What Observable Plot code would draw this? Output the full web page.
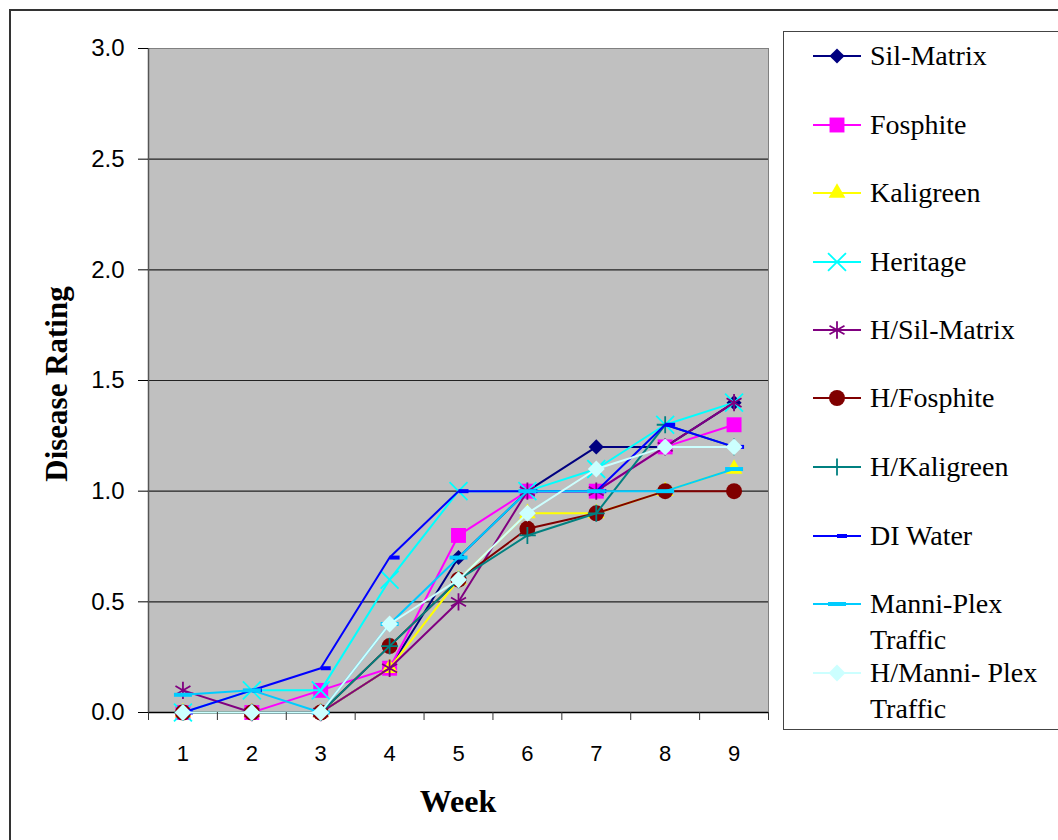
<!DOCTYPE html>
<html><head><meta charset="utf-8">
<script src="https://cdn.jsdelivr.net/npm/d3@7"></script>
<script src="https://cdn.jsdelivr.net/npm/@observablehq/plot@0.6"></script>
<style>
html,body{margin:0;padding:0;background:#fff;overflow:hidden;}
#wrap{position:relative;width:1058px;height:840px;overflow:hidden;}
#border{position:absolute;left:9px;top:9px;width:1100px;height:900px;border:2px solid #333;box-sizing:border-box;}
#chart{position:absolute;left:0;top:0;}
#legend{position:absolute;left:783px;top:31px;width:320px;height:699px;border:1.5px solid #444;box-sizing:border-box;background:#fff;}
.lg{position:absolute;left:870px;font-family:"Liberation Serif","Times New Roman",serif;font-size:28px;line-height:36px;color:#000;white-space:nowrap;}
.lgs{position:absolute;left:808px;}
#ylab{position:absolute;left:57px;top:384px;transform:translate(-50%,-50%) rotate(-90deg);font-family:"Liberation Serif","Times New Roman",serif;font-weight:bold;font-size:31px;white-space:nowrap;}
#xlab{position:absolute;left:458px;top:801px;transform:translate(-50%,-50%);font-family:"Liberation Serif","Times New Roman",serif;font-weight:bold;font-size:32px;white-space:nowrap;}
</style></head>
<body>
<div id="wrap">
  <div id="border"></div>
  <div id="chart"></div>
  <div id="legend"></div>
  <div id="ylab">Disease Rating</div>
  <div id="xlab">Week</div>
</div>
<script>
const weeks = [1, 2, 3, 4, 5, 6, 7, 8, 9];
const yTicks = [0, 0.5, 1, 1.5, 2, 2.5, 3];
const seriesNames = ["Sil-Matrix", "Fosphite", "Kaligreen", "Heritage", "H/Sil-Matrix", "H/Fosphite", "H/Kaligreen", "DI Water", "Manni-Plex Traffic", "H/Manni- Plex Traffic"];
const silMatrix  = [0, 0, 0, 0.2, 0.7, 1.0, 1.2, 1.2, 1.4];
const fosphite   = [0, 0, 0.1, 0.2, 0.8, 1.0, 1.0, 1.2, 1.3];
const kaligreen  = [0, 0, 0, 0.2, 0.6, 0.9, 0.9, 1.0, 1.1];
const heritage   = [0, 0.1, 0.1, 0.6, 1.0, 1.0, 1.1, 1.3, 1.4];
const hSilMatrix = [0.1, 0, 0, 0.2, 0.5, 1.0, 1.0, 1.2, 1.4];
const hFosphite  = [0, 0, 0, 0.3, 0.6, 0.83, 0.9, 1.0, 1.0];
const hKaligreen = [0, 0, 0, 0.3, 0.6, 0.8, 0.9, 1.3, 1.2];
const diWater    = [0, 0.1, 0.2, 0.7, 1.0, 1.0, 1.0, 1.3, 1.2];
const manniPlex  = [0.08, 0.1, 0, 0.4, 0.7, 1.0, 1.0, 1.0, 1.1];
const hManniPlex = [0, 0, 0, 0.4, 0.6, 0.9, 1.1, 1.2, 1.2];
const seriesValues = [silMatrix, fosphite, kaligreen, heritage, hSilMatrix, hFosphite, hKaligreen, diWater, manniPlex, hManniPlex];
const seriesColors = ["#000080", "#FF00FF", "#FFFF00", "#00FFFF", "#800080", "#800000", "#008080", "#0000FF", "#00CCFF", "#CCFFFF"];

// marker symbols
const dashRight = {draw(ctx){ ctx.rect(0, -2, 10, 4); }};
const dashWide = {draw(ctx){ ctx.rect(-9, -2, 18, 4); }};
const markers = [
  {symbol: "diamond2", r: 6.8, filled: true},
  {symbol: "square2", r: 9.5, filled: true},
  {symbol: "triangle2", r: 8, filled: true},
  {symbol: "times", r: 8.2, filled: false},
  {symbol: "asterisk", r: 8.2, filled: false},
  {symbol: "circle", r: 8, filled: true},
  {symbol: "plus", r: 5.5, filled: false},
  {symbol: dashRight, r: 5, filled: true},
  {symbol: dashWide, r: 5, filled: true},
  {symbol: "diamond2", r: 7.6, filled: true}
];

const rows = seriesNames.flatMap((name, si) => weeks.map((w, i) => ({series: name, week: w, value: seriesValues[si][i]})));

const seriesMarks = seriesNames.flatMap((name, si) => {
  const d = rows.filter(r => r.series === name);
  const m = markers[si];
  const c = seriesColors[si];
  return [
    Plot.line(d, {x: "week", y: "value", stroke: c, strokeWidth: 2}),
    Plot.dot(d, {x: "week", y: "value", symbol: m.symbol, r: m.r,
      fill: m.filled ? c : "none", stroke: m.filled ? "none" : c, strokeWidth: m.filled ? 0 : 1.8})
  ];
});

const chart = Plot.plot({
  width: 1058, height: 840,
  marginLeft: 148, marginRight: 290, marginTop: 48, marginBottom: 128,
  style: {fontFamily: "'Liberation Sans', Arial, sans-serif", fontSize: "22px", background: "transparent", color: "#000"},
  x: {domain: [0.5, 9.5]},
  y: {domain: [0, 3]},
  marks: [
    Plot.frame({fill: "#C0C0C0", stroke: "#808080"}),
    Plot.ruleY([0.5, 1, 1.5, 2, 2.5], {stroke: "#222", strokeWidth: 1.2}),
    Plot.ruleY([0], {stroke: "#000", strokeWidth: 1.5}),
    Plot.ruleX([0.5], {stroke: "#555", strokeWidth: 1.5}),
    ...seriesMarks,
    Plot.axisY({ticks: yTicks, tickFormat: d3.format(".1f"), tickSize: 10, tickPadding: 14, fontSize: 24, label: null, stroke: "#000"}),
    Plot.axisX({ticks: d3.range(0.5, 10, 1), tickFormat: () => "", tickSize: 8, label: null, stroke: "#333"}),
    Plot.axisX({ticks: weeks, tickSize: 0, tickPadding: 33, fontSize: 22, label: null})
  ]
});
document.getElementById("chart").appendChild(chart);

// legend
const wrap = document.getElementById("wrap");
const legendY = [56, 125, 193, 262, 330, 398, 467, 536, 604, 673];
const legendLines = [["Sil-Matrix"], ["Fosphite"], ["Kaligreen"], ["Heritage"], ["H/Sil-Matrix"], ["H/Fosphite"], ["H/Kaligreen"], ["DI Water"], ["Manni-Plex", "Traffic"], ["H/Manni- Plex", "Traffic"]];
const symMap = {diamond2: d3.symbolDiamond2, square2: d3.symbolSquare2, triangle2: d3.symbolTriangle2, times: d3.symbolTimes, asterisk: d3.symbolAsterisk, circle: d3.symbolCircle, plus: d3.symbolPlus};
seriesNames.forEach((name, si) => {
  const cy = legendY[si];
  const m = markers[si];
  const c = seriesColors[si];
  const svg = d3.create("svg").attr("class", "lgs").attr("width", 60).attr("height", 30)
    .style("left", "808px").style("top", (cy - 15) + "px");
  svg.append("line").attr("x1", 5).attr("x2", 53).attr("y1", 15).attr("y2", 15).attr("stroke", c).attr("stroke-width", 2);
  const sym = typeof m.symbol === "string" ? symMap[m.symbol] : m.symbol;
  svg.append("path").attr("transform", "translate(29,15)")
    .attr("d", d3.symbol(sym, Math.PI * m.r * m.r)())
    .attr("fill", m.filled ? c : "none").attr("stroke", m.filled ? "none" : c).attr("stroke-width", 1.8);
  wrap.appendChild(svg.node());
  const div = document.createElement("div");
  div.className = "lg";
  div.style.top = (cy - 18) + "px";
  div.innerHTML = legendLines[si].join("<br>");
  wrap.appendChild(div);
});
</script>
</body></html>
